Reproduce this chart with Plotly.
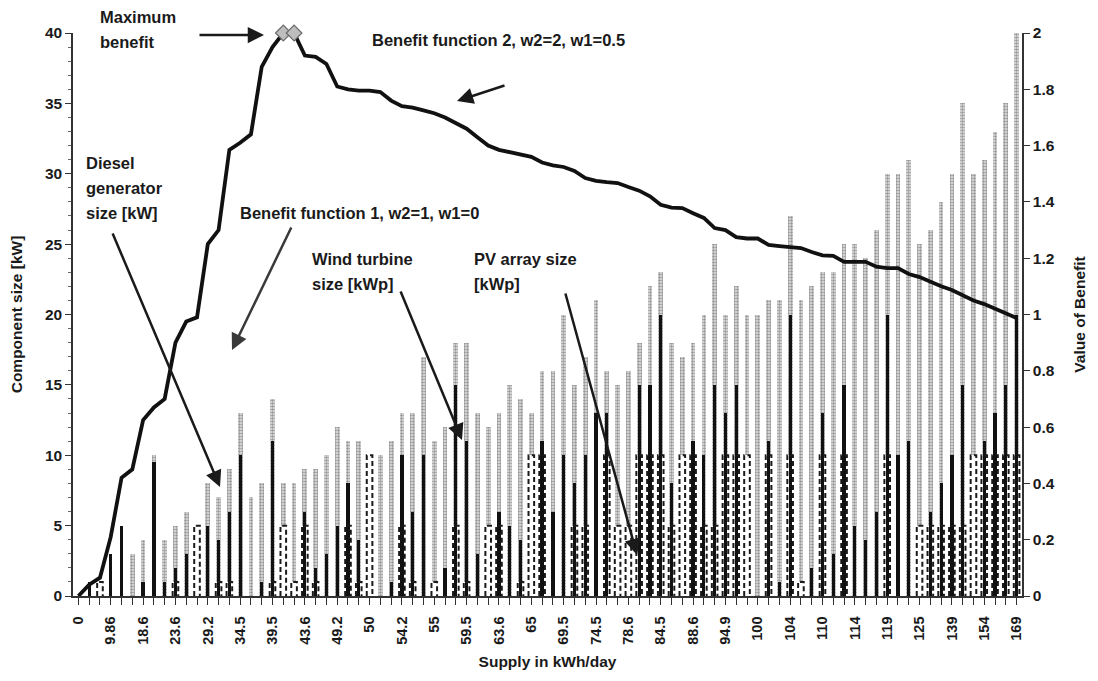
import plotly.graph_objects as go

# Supply axis labels (every third design point is labelled)
supply_labels = ["0", "9.86", "18.6", "23.6", "29.2", "34.5", "39.5", "43.6", "49.2", "50",
                 "54.2", "55", "59.5", "63.6", "65", "69.5", "74.5", "78.6", "84.5", "88.6",
                 "94.9", "100", "104", "110", "114", "119", "125", "139", "154", "169"]

# Component sizes for each of the 88 design points
diesel_kw = [0, 0, 1, 0, 0, 0, 0, 0, 0, 1, 0, 5, 0, 1, 1, 0, 0, 0, 1, 5,
             1, 5, 1, 0, 0, 5, 1, 10, 0, 0, 5, 1, 0, 1, 0, 5, 1, 0, 5, 5,
             0, 1, 10, 10, 0, 0, 5, 5, 0, 10, 5, 5, 10, 10, 10, 5, 10, 10, 5, 5,
             10, 10, 10, 0, 10, 0, 10, 1, 0, 10, 0, 10, 0, 0, 0, 10, 0, 0, 5, 5,
             5, 5, 5, 10, 10, 10, 10, 10]
wind_kwp = [0, 1, 0, 3, 5, 0, 1, 9.5, 1, 2, 3, 0, 5, 4, 6, 10, 0, 1, 11, 0,
            0, 6, 2, 3, 5, 8, 4, 0, 0, 1, 10, 6, 10, 0, 2, 15, 11, 3, 0, 6,
            5, 4, 0, 11, 6, 10, 8, 10, 13, 13, 0, 0, 15, 15, 20, 8, 0, 11, 10, 15,
            13, 15, 0, 0, 11, 1, 20, 0, 2, 13, 3, 15, 5, 4, 6, 20, 10, 11, 0, 6,
            8, 10, 15, 0, 11, 13, 15, 20]
pv_kwp = [0, 0, 0, 0, 0, 3, 4, 10, 4, 5, 6, 0, 8, 7, 9, 13, 7, 8, 14, 8,
          8, 9, 9, 10, 12, 11, 11, 0, 10, 11, 13, 13, 17, 11, 12, 18, 18, 13, 12, 13,
          15, 14, 13, 16, 16, 20, 15, 17, 21, 16, 15, 16, 18, 22, 23, 18, 17, 18, 20, 25,
          20, 22, 20, 20, 21, 21, 27, 21, 22, 23, 23, 25, 25, 24, 26, 30, 30, 31, 25, 26,
          28, 30, 35, 30, 31, 33, 35, 40]

# Benefit function 2 (w2=2, w1=0.5)
benefit = [0, 0.04, 0.065, 0.21, 0.42, 0.45, 0.625, 0.67, 0.70, 0.90,
           0.975, 0.99, 1.25, 1.30, 1.585, 1.61, 1.64, 1.88, 1.95, 2.0,
           2.0, 1.92, 1.915, 1.89, 1.81, 1.80, 1.795, 1.795, 1.79, 1.76,
           1.74, 1.735, 1.725, 1.715, 1.70, 1.68, 1.66, 1.63, 1.60, 1.585,
           1.577, 1.57, 1.56, 1.54, 1.53, 1.524, 1.51, 1.485, 1.475, 1.47,
           1.467, 1.453, 1.44, 1.42, 1.39, 1.38, 1.378, 1.36, 1.343, 1.307,
           1.30, 1.275, 1.27, 1.27, 1.247, 1.243, 1.24, 1.236, 1.222, 1.21,
           1.208, 1.187, 1.187, 1.187, 1.17, 1.165, 1.165, 1.144, 1.133, 1.115,
           1.10, 1.087, 1.069, 1.05, 1.037, 1.02, 1.005, 0.988]
max_points = [19, 20]

n = len(benefit)
idx = list(range(n))
tick_text = [supply_labels[i // 3] if i % 3 == 0 else "" for i in idx]

FONT = "Liberation Sans, Arial, sans-serif"
INK = "#1a1a1a"
DIESEL_W = 0.52

fig = go.Figure()

# PV array size: dotted grey columns (back)
fig.add_trace(go.Bar(
    x=idx, y=pv_kwp, width=0.44, yaxis="y",
    marker=dict(color="white", line=dict(width=0),
                pattern=dict(shape=".", fgcolor="#4a4a4a", bgcolor="#e2e2e2",
                             size=3, solidity=0.5)),
    name="PV array size [kWp]"))

# Diesel generator size: white columns ...
fig.add_trace(go.Bar(
    x=idx, y=diesel_kw, width=DIESEL_W, yaxis="y",
    marker=dict(color="white", line=dict(width=0)),
    name="Diesel generator size [kW]"))

# ... with a dashed outline traced around each column
ox, oy = [], []
h = DIESEL_W / 2
for i, d in zip(idx, diesel_kw):
    if d > 0:
        ox += [i - h, i - h, i + h, i + h, None]
        oy += [0, d, d, 0, None]
fig.add_trace(go.Scatter(
    x=ox, y=oy, yaxis="y", mode="lines", hoverinfo="skip",
    line=dict(color=INK, width=2, dash="5px,3px")))

# Wind turbine size: solid black columns (front)
fig.add_trace(go.Bar(
    x=idx, y=wind_kwp, width=0.3, yaxis="y",
    marker=dict(color="#111111", line=dict(width=0)),
    name="Wind turbine size [kWp]"))

# Benefit curve on the secondary axis
fig.add_trace(go.Scatter(
    x=idx, y=benefit, yaxis="y2", mode="lines",
    line=dict(color="#111111", width=3.8), name="Benefit function 2"))

fig.add_trace(go.Scatter(
    x=[idx[i] for i in max_points], y=[benefit[i] for i in max_points], yaxis="y2",
    mode="markers", cliponaxis=False,
    marker=dict(symbol="diamond", size=12, color="#bdbdbd",
                line=dict(color="#6a6a6a", width=1.2)),
    name="Maximum benefit"))

L, R, T, B = 73, 1022, 33, 596


def paper(px, py):
    return (px - L) / (R - L), (B - py) / (B - T)


def label(text, px, py):
    x, y = paper(px, py)
    fig.add_annotation(x=x, y=y, xref="paper", yref="paper", text=text,
                       showarrow=False, xanchor="left", yanchor="middle", align="left",
                       font=dict(family=FONT, size=16.5, color=INK, weight="bold"))


def arrow(hx, hy, tx, ty, color=INK):
    x, y = paper(hx, hy)
    fig.add_annotation(x=x, y=y, xref="paper", yref="paper", text="",
                       showarrow=True, ax=tx - hx, ay=ty - hy,
                       arrowhead=2, arrowsize=1.3, arrowwidth=2.5, arrowcolor=color)


label("Maximum", 98, 17)
label("benefit", 98, 42)
arrow(264, 35, 198, 35)

label("Benefit function 2, w2=2, w1=0.5", 370, 40)
arrow(457, 101, 506, 85)

label("Diesel", 84, 163)
label("generator", 84, 188)
label("size [kW]", 84, 213)
arrow(220, 487, 112, 232)

label("Benefit function 1, w2=1, w1=0", 238, 213)
arrow(232, 350, 292, 226, color="#3a3a3a")

label("Wind turbine", 310, 259)
label("size [kWp]", 310, 284)
arrow(462, 440, 400, 290)

label("PV array size", 472, 259)
label("[kWp]", 472, 284)
arrow(637, 555, 565, 292)

axis_font = dict(family=FONT, size=15.5, color=INK, weight="bold")
title_font = dict(family=FONT, size=15.5, color=INK, weight="bold")

fig.update_layout(
    width=1098, height=681,
    margin=dict(l=L, r=1098 - R, t=T, b=681 - B),
    paper_bgcolor="white", plot_bgcolor="white",
    barmode="overlay", bargap=0, showlegend=False,
    font=dict(family=FONT, color=INK),
    xaxis=dict(range=[-0.5, n - 0.5], tickmode="array", tickvals=idx, ticktext=tick_text,
               tickangle=-90, ticks="outside", ticklen=7, tickcolor="#333",
               ticklabelstandoff=6,
               showline=True, linecolor="#333", linewidth=1.5, showgrid=False,
               zeroline=False, tickfont=dict(family=FONT, size=14.5, color=INK, weight="bold"),
               title=dict(text="Supply in kWh/day", standoff=12, font=title_font)),
    yaxis=dict(range=[0, 40], dtick=5, ticks="outside", ticklen=6, tickcolor="#333",
               showline=True, linecolor="#333", linewidth=1.5, showgrid=False,
               zeroline=False, tickfont=axis_font,
               minor=dict(dtick=1, ticks="outside", ticklen=3, tickcolor="#666"),
               title=dict(text="Component size [kW]", standoff=18, font=title_font)),
    yaxis2=dict(range=[0, 2], dtick=0.2, overlaying="y", side="right",
                ticks="outside", ticklen=6, tickcolor="#333",
                showline=True, linecolor="#333", linewidth=1.5, showgrid=False,
                zeroline=False, tickfont=axis_font,
                title=dict(text="Value of Benefit", standoff=20, font=title_font)),
)

fig.write_html("out.html")
